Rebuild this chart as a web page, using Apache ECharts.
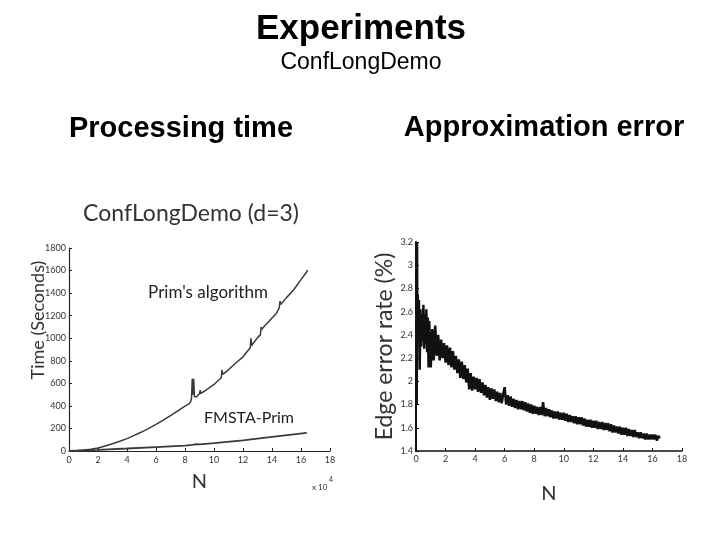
<!DOCTYPE html>
<html><head><meta charset="utf-8">
<script src="https://cdn.jsdelivr.net/npm/echarts@6/dist/echarts.min.js"></script>
<style>html,body{margin:0;padding:0;background:#fff}#c{width:720px;height:540px}</style>
</head><body><div id="c"></div>
<script>
// Processing time (left)
const primN = [0,0.5,1,1.5,2,2.5,3,3.5,4,4.5,5,5.5,6,6.5,7,7.5,8,8.3,8.4,8.45,8.5,8.55,8.6,8.65,8.7,8.8,9,9.05,9.1,9.5,10,10.5,10.55,10.6,10.65,11,11.5,12,12.5,12.55,12.6,13,13.2,13.25,13.3,13.5,13.8,14,14.3,14.5,14.55,14.6,15,15.5,16,16.4,16.45];
const primTime = [0,2,8,16,26,44,64,86,110,138,168,200,236,274,314,356,398,420,440,470,640,500,640,480,470,480,510,540,510,545,590,650,720,680,665,720,780,835,915,1000,935,1005,1030,1100,1080,1110,1150,1180,1220,1270,1330,1300,1360,1430,1520,1590,1605];
const fmstaN = [0,2,4,6,8,8.5,8.6,8.8,9,10,12,14,16.4];
const fmstaTime = [0,10,22,35,48,55,66,60,58,70,95,125,160];
const leftXTicks = [0,2,4,6,8,10,12,14,16,18];
const leftYTicks = [0,200,400,600,800,1000,1200,1400,1600,1800];

// Approximation error (right)
const errN = [0.05,0.07,0.09,0.12,0.15,0.20,0.25,0.30,0.35,0.40,0.45,0.50,0.55,0.60,0.65,0.70,0.75,0.80,0.85,0.90,0.95,
1.0,1.1,1.2,1.3,1.4,1.5,1.6,1.7,1.8,1.9,2.0,2.1,2.2,2.3,2.4,2.5,2.6,2.7,2.8,2.9,
3.0,3.1,3.2,3.3,3.4,3.5,3.6,3.7,3.8,3.9,4.0,4.1,4.2,4.3,4.4,4.5,4.6,4.7,4.8,4.9,
5.0,5.1,5.2,5.3,5.4,5.5,5.6,5.7,5.8,5.9,6.0,6.1,6.2,6.3,6.4,6.5,6.6,6.7,6.8,6.9,
7.0,7.1,7.2,7.3,7.4,7.5,7.6,7.7,7.8,7.9,8.0,8.1,8.2,8.3,8.4,8.5,8.6,8.7,8.8,8.9,
9.0,9.1,9.2,9.3,9.4,9.5,9.6,9.7,9.8,9.9,10.0,10.1,10.2,10.3,10.4,10.5,10.6,10.7,10.8,10.9,
11.0,11.1,11.2,11.3,11.4,11.5,11.6,11.7,11.8,11.9,12.0,12.1,12.2,12.3,12.4,12.5,12.6,12.7,12.8,12.9,
13.0,13.1,13.2,13.3,13.4,13.5,13.6,13.7,13.8,13.9,14.0,14.1,14.2,14.3,14.4,14.5,14.6,14.7,14.8,14.9,
15.0,15.1,15.2,15.3,15.4,15.5,15.6,15.7,15.8,15.9,16.0,16.1,16.2,16.3,16.4,16.5];
const errRate = [1.80,3.20,2.55,2.75,2.40,2.70,2.10,2.62,2.30,2.58,2.35,2.66,2.28,2.58,2.32,2.62,2.25,2.55,2.12,2.52,2.20,
2.12,2.45,2.18,2.48,2.22,2.40,2.18,2.36,2.20,2.33,
2.16,2.31,2.14,2.29,2.12,2.26,2.10,2.22,2.07,2.19,
2.03,2.17,2.02,2.14,1.99,2.11,1.93,2.07,1.92,2.04,
1.93,2.03,1.91,2.02,1.90,1.99,1.88,1.97,1.86,1.95,
1.84,1.94,1.85,1.93,1.83,1.91,1.82,1.90,1.81,1.89,
1.95,1.80,1.88,1.79,1.87,1.78,1.85,1.77,1.84,1.76,
1.83,1.76,1.83,1.75,1.82,1.74,1.81,1.73,1.80,1.72,
1.79,1.72,1.78,1.71,1.78,1.71,1.82,1.70,1.77,1.70,
1.76,1.69,1.75,1.68,1.74,1.68,1.74,1.67,1.73,1.67,
1.73,1.66,1.72,1.65,1.71,1.65,1.70,1.64,1.70,1.63,
1.69,1.63,1.69,1.62,1.68,1.61,1.67,1.61,1.67,1.60,
1.66,1.60,1.66,1.59,1.65,1.59,1.65,1.58,1.64,1.58,
1.64,1.57,1.63,1.56,1.62,1.56,1.61,1.55,1.61,1.54,
1.60,1.54,1.60,1.53,1.59,1.53,1.58,1.52,1.58,1.52,
1.56,1.51,1.56,1.51,1.55,1.50,1.55,1.50,1.54,1.50,
1.54,1.50,1.54,1.49,1.53,1.51];
const rightXTicks = [0,2,4,6,8,10,12,14,16,18];
const rightYTicks = [1.4,1.6,1.8,2,2.2,2.4,2.6,2.8,3,3.2];

const zip = (a,b) => a.map((v,i)=>[v,b[i]]);
const tickFont = {fontFamily:'Lato', fontSize:9, color:'#333'};

const chart = echarts.init(document.getElementById('c'));
chart.setOption({
  animation:false,
  backgroundColor:'#fff',
  grid:[
    {left:69, width:261, top:248, height:203},
    {left:416, width:266, top:242, height:209}
  ],
  xAxis:[
    {gridIndex:0, type:'value', min:0, max:18, interval:2,
     name:'N', nameLocation:'middle', nameGap:21, nameTextStyle:{fontFamily:'Lato', fontSize:20, color:'#333'},
     axisLine:{lineStyle:{color:'#222', width:1.2}}, axisTick:{inside:true, length:3, lineStyle:{color:'#222'}},
     axisLabel:Object.assign({margin:5, formatter:v=>leftXTicks.includes(v)?String(v):''}, tickFont), splitLine:{show:false}},
    {gridIndex:1, type:'value', min:0, max:18, interval:2,
     name:'N', nameLocation:'middle', nameGap:33, nameTextStyle:{fontFamily:'Lato', fontSize:20, color:'#333'},
     axisLine:{lineStyle:{color:'#111', width:1.5}}, axisTick:{inside:true, length:3, lineStyle:{color:'#111'}},
     axisLabel:Object.assign({margin:4, formatter:v=>rightXTicks.includes(v)?String(v):''}, tickFont), splitLine:{show:false}}
  ],
  yAxis:[
    {gridIndex:0, type:'value', min:0, max:1800, interval:200,
     axisLine:{show:true, lineStyle:{color:'#222', width:1.2}}, axisTick:{show:true, inside:true, length:3, lineStyle:{color:'#222'}},
     axisLabel:Object.assign({margin:3, formatter:v=>leftYTicks.includes(v)?String(v):''}, tickFont), splitLine:{show:false}},
    {gridIndex:1, type:'value', min:1.4, max:3.2, interval:0.2,
     name:'Edge error rate (%)', nameLocation:'middle', nameGap:13, nameTextStyle:{fontFamily:'Lato', fontSize:23, color:'#333'},
     axisLine:{show:true, lineStyle:{color:'#111', width:2}}, axisTick:{show:true, inside:true, length:3, lineStyle:{color:'#111'}},
     axisLabel:Object.assign({margin:3, formatter:v=>{const r=Math.round(v*10)/10; return rightYTicks.includes(r)?String(r):'';}}, tickFont), splitLine:{show:false}}
  ],
  graphic:[
    {type:'text', x:361, y:29, style:{text:'Experiments', font:'bold 35px "Liberation Sans"', fill:'#000', align:'center', verticalAlign:'middle'}},
    {type:'text', x:361, y:63, style:{text:'ConfLongDemo', font:'23px "Liberation Sans"', fill:'#000', align:'center', verticalAlign:'middle'}},
    {type:'text', x:181, y:129, style:{text:'Processing time', font:'bold 29px "Liberation Sans"', fill:'#000', align:'center', verticalAlign:'middle'}},
    {type:'text', x:544, y:128, style:{text:'Approximation error', font:'bold 29px "Liberation Sans"', fill:'#000', align:'center', verticalAlign:'middle'}},
    {type:'text', x:191, y:214, style:{text:'ConfLongDemo (d=3)', font:'23px Lato', fill:'#333', align:'center', verticalAlign:'middle'}},
    {type:'text', x:38, y:320, rotation:Math.PI/2, style:{text:'Time (Seconds)', font:'18px Lato', fill:'#333', align:'center', verticalAlign:'middle'}},
    {type:'text', x:208, y:293, style:{text:"Prim's algorithm", font:'17px Lato', fill:'#222', align:'center', verticalAlign:'middle'}},
    {type:'text', x:249, y:418, style:{text:'FMSTA-Prim', font:'16px Lato', fill:'#222', align:'center', verticalAlign:'middle'}},
    {type:'text', x:312, y:487, style:{text:'x 10', font:'8px Lato', fill:'#333', verticalAlign:'middle'}},
    {type:'text', x:329, y:480, style:{text:'4', font:'7px Lato', fill:'#333', verticalAlign:'middle'}}
  ],
  series:[
    {type:'line', xAxisIndex:0, yAxisIndex:0, data:zip(primN, primTime), showSymbol:false, lineStyle:{color:'#3a3a3a', width:1.5}},
    {type:'line', xAxisIndex:0, yAxisIndex:0, data:zip(fmstaN, fmstaTime), showSymbol:false, lineStyle:{color:'#3a3a3a', width:1.8}},
    {type:'line', xAxisIndex:1, yAxisIndex:1, data:zip(errN, errRate), showSymbol:false, lineStyle:{color:'#111', width:2.5}}
  ]
});
</script></body></html>
